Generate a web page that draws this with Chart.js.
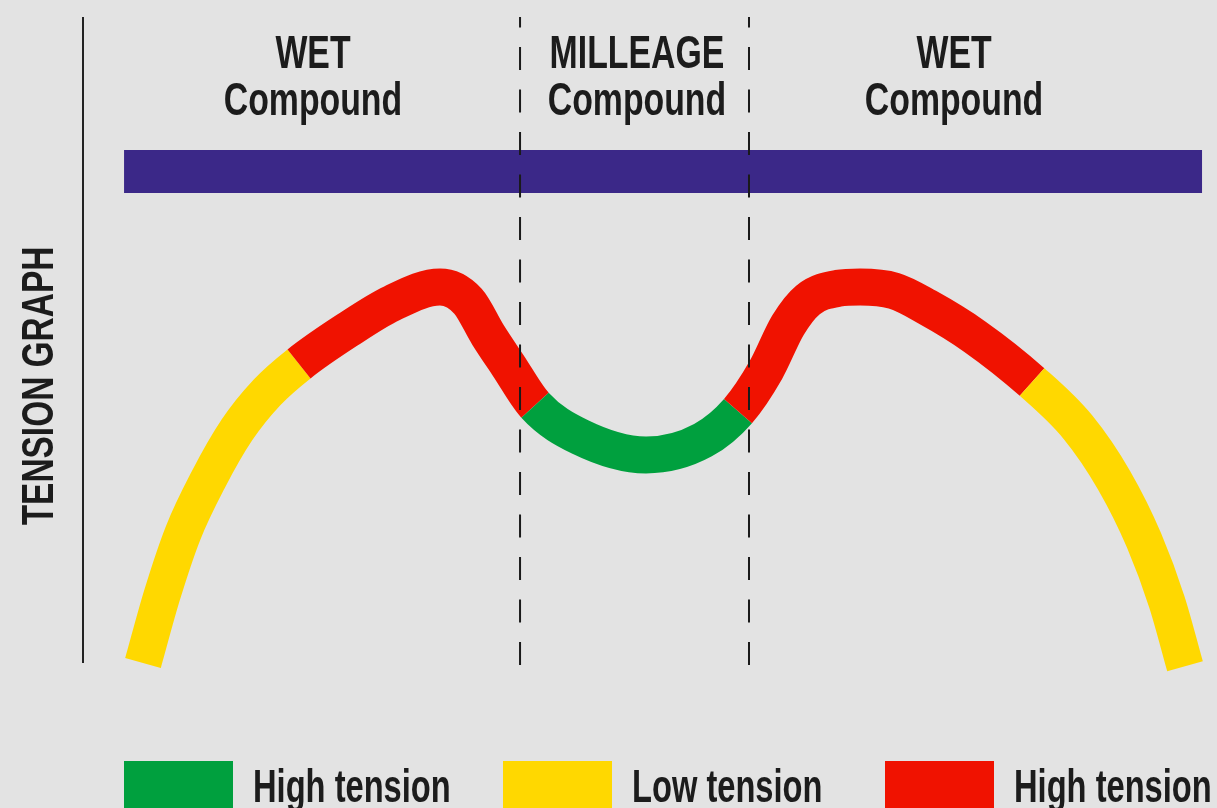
<!DOCTYPE html>
<html>
<head>
<meta charset="utf-8">
<script src="https://cdn.jsdelivr.net/npm/chart.js@4.4.1/dist/chart.umd.min.js"></script>
<style>
  html, body { margin: 0; padding: 0; background: #e3e3e3; overflow: hidden; }
  #wrap { width: 1217px; height: 808px; position: relative; }
</style>
</head>
<body>
<div id="wrap"><canvas id="chart"></canvas></div>
<script>
// curve centreline, x = position across the tread (0..100), y = tension (0..100)
const curveX = [5.29, 6.97, 8.82, 11.02, 13.58, 16.23, 19.05, 23.28, 27.25, 31.48, 33.95, 35.71, 37.48, 39.86,
  43.83, 49.65, 54.67, 57.76, 60.23, 62.17, 63.93, 66.58, 68.52, 71.52, 74.43, 78.66, 83.69,
  87.74, 90.92, 93.56, 95.59, 97.18];
const curveTension = [0, 10.5, 20.1, 28.3, 36.1, 41.9, 46.3, 51.5, 55.7, 58.2, 56.0, 50.8, 46.1, 39.9,
  35.0, 32.2, 34.5, 39.0, 45.4, 52.3, 56.2, 58.0, 58.2, 57.6, 55.1, 50.5, 43.5,
  36.5, 28.3, 19.0, 9.4, -0.5];

// colour bands along the curve
const bandEdges = [19.05, 39.86, 57.76, 83.69];
const bandColors = ['#ffd800', '#f01200', '#00a03e', '#f01200', '#ffd800'];

// compound zones
const zoneEdges = [38.54, 58.73];
const zoneCenters = [20.28, 48.85, 76.81];
const zoneTitles = [['WET', 'Compound'], ['MILLEAGE', 'Compound'], ['WET', 'Compound']];

// tread bar
const barSpan = [3.62, 98.68];
const barLevel = 76.1;

const legendLabels = ['High tension', 'Low tension', 'High tension'];
const legendColors = ['#00a03e', '#ffd800', '#f01200'];
const axisTitle = 'TENSION GRAPH';

const FONT = '"Liberation Sans", Arial, sans-serif';
const INK = '#1c1c1c';

function bandColor(x) {
  let i = 0;
  while (i < bandEdges.length && x > bandEdges[i]) i++;
  return bandColors[i];
}

function squeezedText(ctx, text, x, y, size, squeeze, align, angle) {
  ctx.save();
  ctx.translate(x, y);
  if (angle) ctx.rotate(angle);
  ctx.scale(squeeze, 1);
  ctx.font = 'bold ' + size + 'px ' + FONT;
  ctx.fillStyle = INK;
  ctx.textAlign = align;
  ctx.textBaseline = 'alphabetic';
  ctx.fillText(text, 0, 0);
  ctx.restore();
}

const labelsPlugin = {
  id: 'labels',
  afterDraw(chart) {
    const ctx = chart.ctx;
    const xs = chart.scales.x;
    zoneTitles.forEach((lines, i) => {
      const cx = xs.getPixelForValue(zoneCenters[i]);
      squeezedText(ctx, lines[0], cx, 68, 46, 0.735, 'center');
      squeezedText(ctx, lines[1], cx, 115, 46, 0.735, 'center');
    });
    squeezedText(ctx, axisTitle, 53, 386, 44, 0.76, 'center', -Math.PI / 2);

    // legend
    const boxX = [124, 503, 885];
    legendLabels.forEach((lab, i) => {
      ctx.fillStyle = legendColors[i];
      ctx.fillRect(boxX[i], 761, 109, 50);
      squeezedText(ctx, lab, boxX[i] + 129, 802, 46, 0.71, 'left');
    });
  }
};

const lineDefaults = { pointRadius: 0, fill: false, clip: false, tension: 0 };

const datasets = [];
zoneEdges.forEach(x => {
  datasets.push(Object.assign({}, lineDefaults, {
    data: [{ x: x, y: -0.3 }, { x: x, y: 100 }],
    borderColor: '#1a1a1a',
    borderWidth: 2,
    borderDash: [23, 19.5],
    order: 0
  }));
});
datasets.push(Object.assign({}, lineDefaults, {
  data: curveX.map((x, i) => ({ x: x, y: curveTension[i] })),
  borderWidth: 37,
  borderCapStyle: 'butt',
  borderJoinStyle: 'round',
  cubicInterpolationMode: 'monotone',
  borderColor: bandColors[0],
  segment: {
    borderColor: c => bandColor((curveX[c.p0DataIndex] + curveX[c.p1DataIndex]) / 2)
  },
  order: 1
}));
datasets.push(Object.assign({}, lineDefaults, {
  data: [{ x: 0, y: 0 }, { x: 0, y: 100 }],
  borderColor: '#222222',
  borderWidth: 2,
  order: 1
}));
datasets.push(Object.assign({}, lineDefaults, {
  data: [{ x: barSpan[0], y: barLevel }, { x: barSpan[1], y: barLevel }],
  borderColor: '#3b2888',
  borderWidth: 43,
  borderCapStyle: 'butt',
  order: 2
}));

new Chart(document.getElementById('chart'), {
  type: 'line',
  data: { datasets: datasets },
  options: {
    responsive: true,
    maintainAspectRatio: false,
    animation: false,
    layout: { padding: { left: 83, right: 0, top: 17, bottom: 145 } },
    scales: {
      x: { type: 'linear', min: 0, max: 100, display: false },
      y: { type: 'linear', min: 0, max: 100, display: false }
    },
    plugins: { legend: { display: false }, tooltip: { enabled: false } },
    elements: { line: { capBezierPoints: false } }
  },
  plugins: [labelsPlugin]
});
</script>
</body>
</html>
